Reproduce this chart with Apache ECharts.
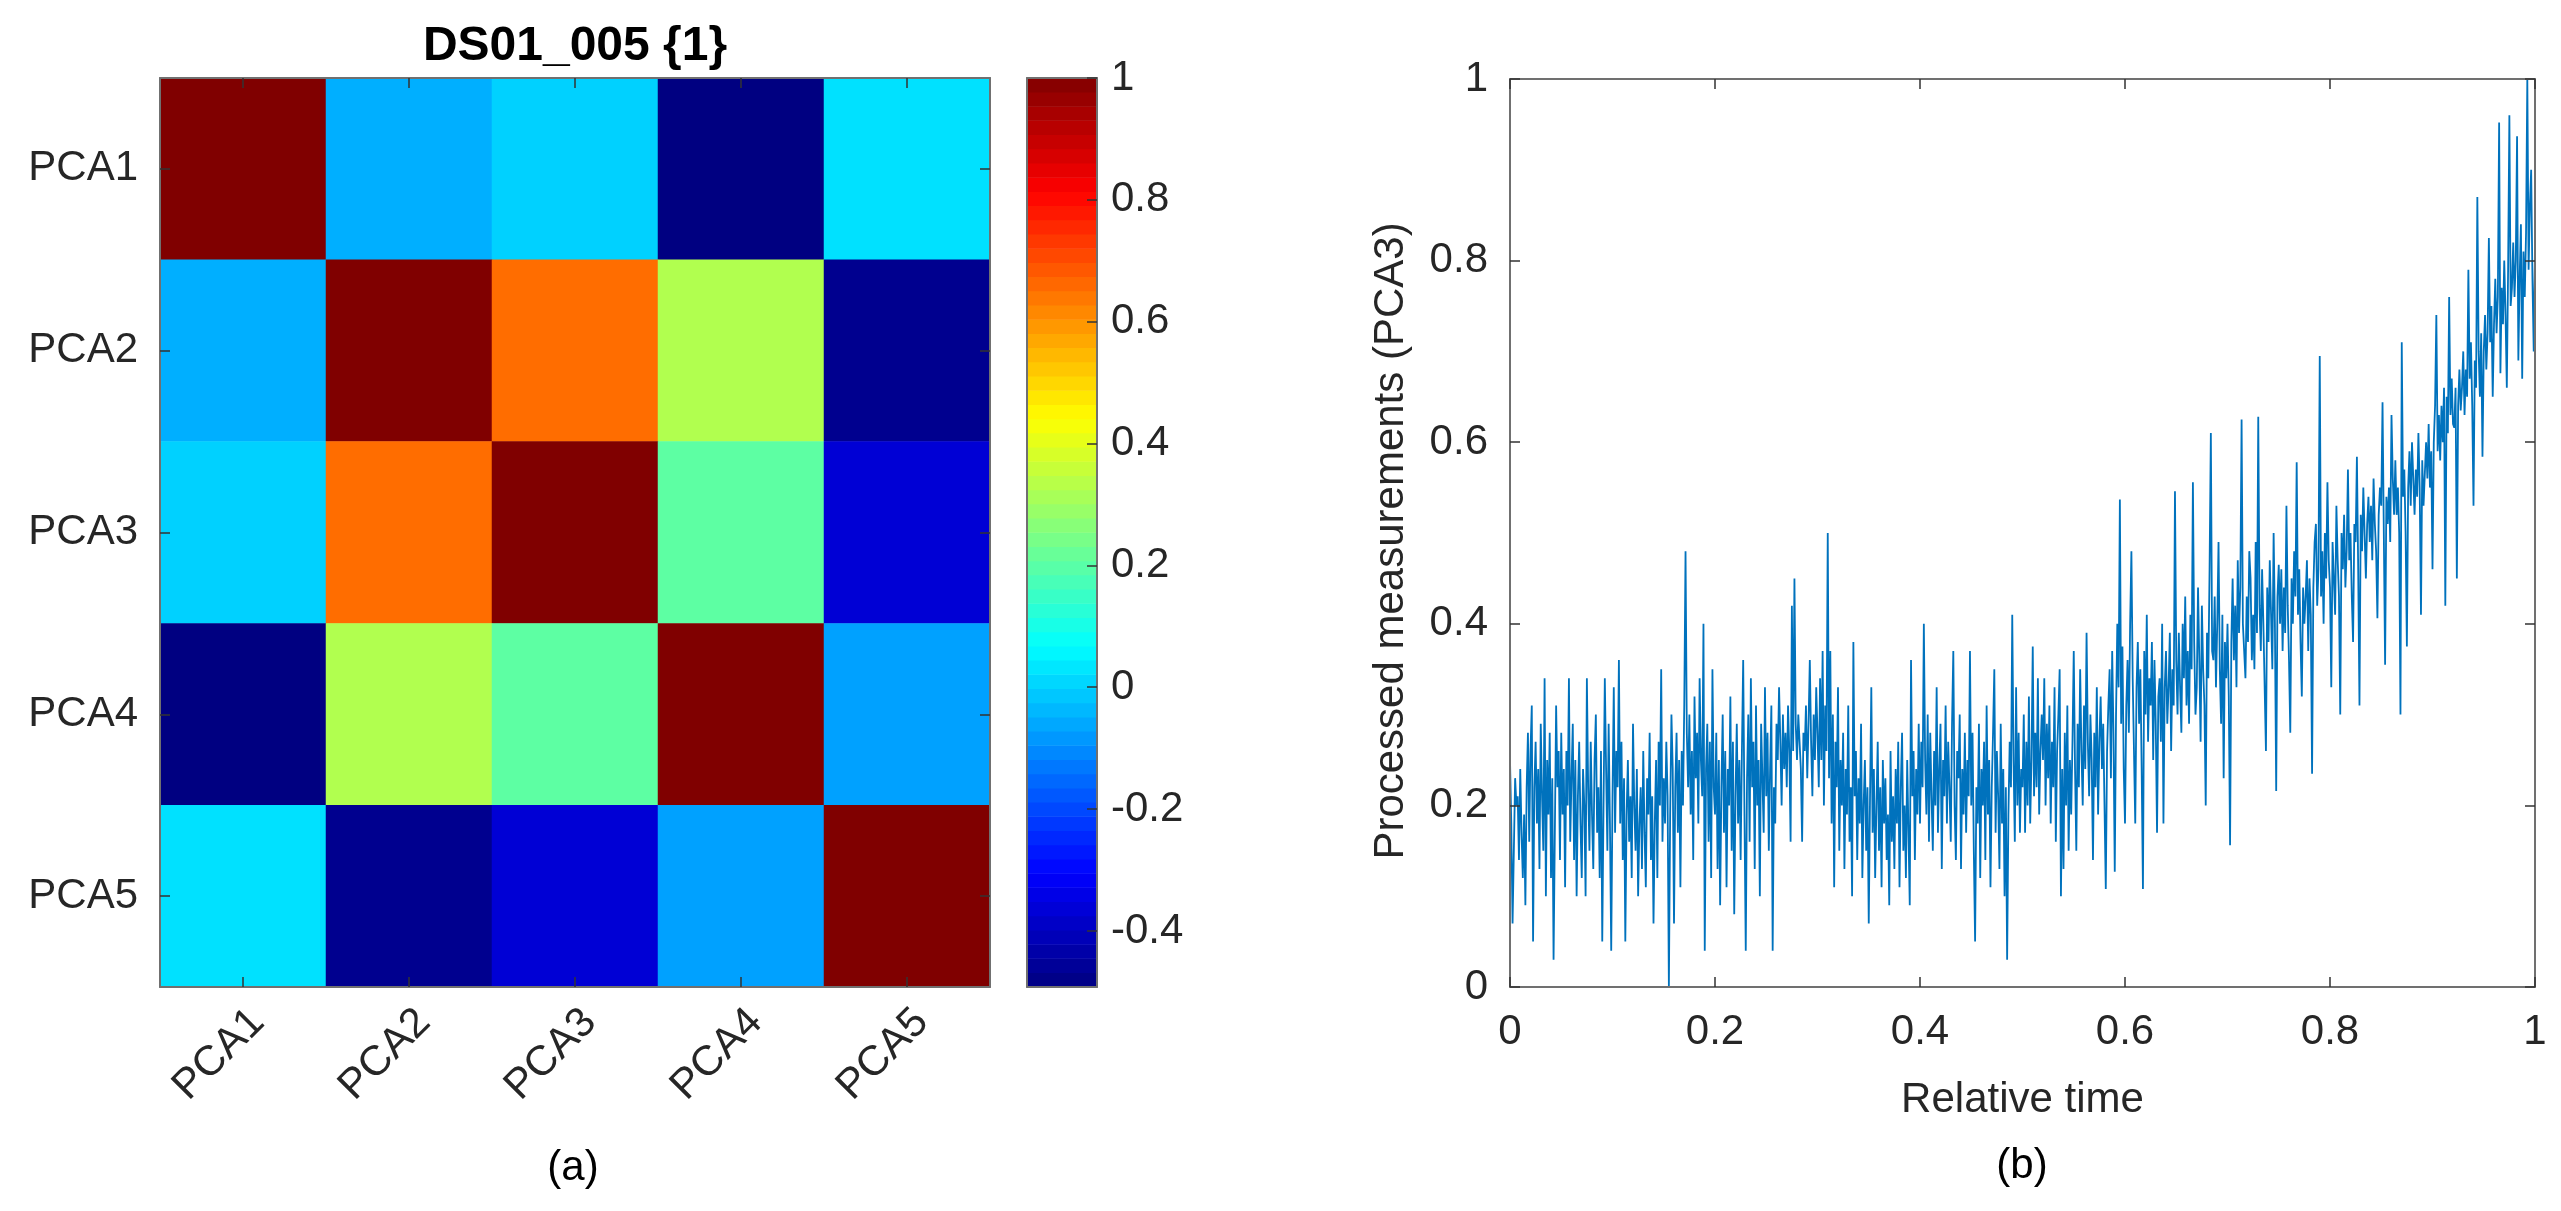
<!DOCTYPE html>
<html>
<head>
<meta charset="utf-8">
<script src="https://cdn.jsdelivr.net/npm/echarts@6.0.0/dist/echarts.min.js"></script>
<style>
html,body{margin:0;padding:0;background:#ffffff;}
#c{width:2561px;height:1211px;}
</style>
</head>
<body>
<div id="c"></div>
<script>
// ---------- data ----------
const pcaLabels = ['PCA1', 'PCA2', 'PCA3', 'PCA4', 'PCA5'];
const corrPCA1 = [1.000, -0.050, 0.000, -0.490, 0.024];
const corrPCA2 = [-0.050, 1.000, 0.654, 0.326, -0.470];
const corrPCA3 = [0.000, 0.654, 1.000, 0.203, -0.367];
const corrPCA4 = [-0.490, 0.326, 0.203, 1.000, -0.070];
const corrPCA5 = [0.024, -0.470, -0.367, -0.070, 1.000];
const colorMin = -0.492;
const colorMax = 1;
const jetStops = ['#000080', '#0000FF', '#0080FF', '#00FFFF', '#80FF80', '#FFFF00', '#FF8000', '#FF0000', '#800000'];
const timeTicks = [0, 0.2, 0.4, 0.6, 0.8, 1];
const pca3Values = [
0.25,0.18,0.07,0.15,0.23,0.20,0.21,0.14,0.24,0.17,0.12,0.19,0.09,0.22,0.28,0.16,0.26,0.31,0.05,0.22,
0.27,0.18,0.24,0.13,0.29,0.21,0.15,0.34,0.10,0.25,0.19,0.28,0.12,0.23,0.03,0.17,0.31,0.22,0.26,0.14,
0.28,0.19,0.24,0.11,0.26,0.20,0.34,0.16,0.23,0.29,0.14,0.25,0.10,0.21,0.27,0.18,0.12,0.24,0.20,0.10,
0.34,0.22,0.15,0.27,0.19,0.13,0.25,0.30,0.17,0.22,0.12,0.26,0.05,0.20,0.34,0.24,0.15,0.29,0.18,0.04,
0.21,0.33,0.17,0.26,0.22,0.36,0.18,0.27,0.14,0.23,0.05,0.19,0.25,0.16,0.21,0.12,0.29,0.20,0.15,0.24,
0.10,0.18,0.22,0.13,0.26,0.17,0.11,0.23,0.19,0.28,0.14,0.21,0.07,0.18,0.25,0.12,0.27,0.20,0.35,0.16,
0.23,0.18,0.27,0.21,0.00,0.19,0.30,0.24,0.07,0.22,0.28,0.17,0.25,0.11,0.26,0.20,0.31,0.48,0.28,0.22,
0.30,0.19,0.26,0.14,0.32,0.23,0.28,0.18,0.34,0.25,0.21,0.40,0.04,0.24,0.29,0.16,0.27,0.12,0.35,0.22,
0.19,0.28,0.13,0.25,0.09,0.22,0.30,0.17,0.26,0.11,0.24,0.20,0.32,0.15,0.27,0.08,0.21,0.29,0.18,0.25,
0.14,0.26,0.36,0.19,0.04,0.23,0.30,0.16,0.34,0.22,0.27,0.13,0.31,0.20,0.25,0.10,0.29,0.23,0.17,0.33,
0.21,0.28,0.15,0.24,0.31,0.04,0.22,0.18,0.29,0.25,0.33,0.27,0.20,0.30,0.24,0.28,0.22,0.31,0.26,0.16,
0.42,0.26,0.45,0.29,0.25,0.30,0.27,0.24,0.16,0.28,0.26,0.31,0.23,0.29,0.36,0.27,0.21,0.30,0.25,0.33,
0.28,0.22,0.34,0.25,0.37,0.20,0.31,0.26,0.50,0.23,0.37,0.18,0.30,0.11,0.27,0.22,0.33,0.15,0.25,0.20,
0.28,0.13,0.24,0.19,0.31,0.16,0.22,0.10,0.38,0.21,0.26,0.14,0.23,0.18,0.29,0.12,0.20,0.25,0.15,0.22,
0.07,0.21,0.33,0.17,0.24,0.12,0.20,0.27,0.15,0.22,0.11,0.25,0.18,0.23,0.14,0.19,0.09,0.26,0.16,0.21,
0.13,0.24,0.18,0.27,0.11,0.22,0.28,0.15,0.20,0.12,0.25,0.17,0.09,0.36,0.21,0.26,0.14,0.24,0.19,0.29,
0.18,0.27,0.22,0.40,0.25,0.19,0.30,0.16,0.28,0.21,0.15,0.26,0.20,0.33,0.17,0.24,0.29,0.13,0.25,0.21,
0.31,0.18,0.27,0.22,0.16,0.29,0.37,0.20,0.14,0.26,0.23,0.30,0.13,0.24,0.19,0.28,0.17,0.25,0.21,0.37,
0.20,0.28,0.15,0.05,0.22,0.18,0.29,0.12,0.24,0.20,0.27,0.14,0.31,0.19,0.25,0.11,0.22,0.28,0.35,0.17,
0.26,0.21,0.13,0.29,0.18,0.24,0.10,0.22,0.03,0.19,0.27,0.22,0.41,0.25,0.16,0.33,0.20,0.28,0.17,0.24,
0.22,0.30,0.17,0.27,0.20,0.32,0.18,0.25,0.375,0.21,0.28,0.22,0.34,0.19,0.26,0.30,0.25,0.34,0.20,0.29,
0.23,0.31,0.18,0.27,0.22,0.33,0.16,0.26,0.30,0.35,0.10,0.24,0.13,0.28,0.20,0.31,0.15,0.25,0.19,0.27,
0.37,0.24,0.15,0.29,0.22,0.35,0.26,0.20,0.31,0.24,0.39,0.27,0.21,0.30,0.25,0.14,0.28,0.22,0.33,0.19,
0.27,0.32,0.24,0.29,0.20,0.108,0.26,0.31,0.35,0.23,0.37,0.28,0.127,0.30,0.40,0.33,0.537,0.29,0.375,0.24,
0.18,0.31,0.36,0.28,0.40,0.48,0.34,0.26,0.18,0.33,0.38,0.29,0.35,0.24,0.108,0.37,0.30,0.41,0.27,0.34,
0.31,0.38,0.25,0.36,0.29,0.17,0.32,0.34,0.27,0.40,0.18,0.33,0.37,0.29,0.33,0.39,0.26,0.35,0.31,0.546,
0.36,0.30,0.39,0.33,0.28,0.40,0.34,0.43,0.31,0.37,0.29,0.41,0.35,0.556,0.38,0.30,0.33,0.44,0.36,0.27,
0.42,0.35,0.31,0.20,0.39,0.34,0.46,0.61,0.37,0.36,0.43,0.33,0.40,0.49,0.35,0.29,0.41,0.23,0.38,0.34,
0.40,0.32,0.156,0.38,0.45,0.36,0.42,0.33,0.47,0.39,0.44,0.625,0.40,0.37,0.34,0.43,0.38,0.48,0.45,0.36,
0.41,0.35,0.49,0.39,0.628,0.42,0.37,0.46,0.40,0.33,0.26,0.44,0.38,0.47,0.41,0.35,0.50,0.40,0.216,0.43,
0.465,0.40,0.46,0.37,0.44,0.39,0.53,0.42,0.36,0.28,0.45,0.40,0.48,0.43,0.578,0.41,0.46,0.38,0.32,0.44,
0.40,0.43,0.47,0.37,0.45,0.41,0.235,0.44,0.49,0.51,0.42,0.46,0.695,0.43,0.48,0.40,0.50,0.45,0.556,0.47,
0.44,0.33,0.49,0.45,0.41,0.53,0.47,0.43,0.30,0.50,0.46,0.52,0.44,0.48,0.57,0.47,0.50,0.43,0.38,0.51,
0.49,0.584,0.46,0.31,0.52,0.48,0.55,0.50,0.45,0.51,0.54,0.49,0.53,0.47,0.56,0.51,0.48,0.406,0.52,0.55,
0.53,0.644,0.50,0.355,0.54,0.51,0.55,0.49,0.63,0.56,0.52,0.58,0.52,0.55,0.50,0.30,0.71,0.54,0.57,0.50,
0.375,0.55,0.59,0.53,0.60,0.56,0.52,0.57,0.54,0.61,0.55,0.41,0.58,0.53,0.565,0.60,0.56,0.62,0.55,0.59,
0.46,0.60,0.64,0.74,0.59,0.63,0.58,0.64,0.60,0.66,0.42,0.65,0.61,0.76,0.63,0.67,0.62,0.616,0.66,0.45,
0.64,0.68,0.635,0.66,0.70,0.63,0.68,0.65,0.79,0.67,0.71,0.64,0.53,0.69,0.66,0.87,0.70,0.65,0.72,0.584,
0.70,0.74,0.68,0.72,0.825,0.71,0.75,0.65,0.73,0.78,0.72,0.76,0.952,0.676,0.77,0.73,0.80,0.74,0.66,0.79,
0.96,0.75,0.77,0.82,0.76,0.80,0.937,0.69,0.78,0.84,0.67,0.81,0.76,0.83,1.00,0.79,0.86,0.90,0.78,0.70,
0.81
];

// ---------- derived structures ----------
const corrRows = [corrPCA1, corrPCA2, corrPCA3, corrPCA4, corrPCA5];
const heatData = [];
corrRows.forEach((row, r) => row.forEach((v, c) => heatData.push([c, r, v])));

const NLEV = 64;
const levelIdx = [];
const colorbarData = [];
for (let i = 0; i < NLEV; i++) {
  levelIdx.push(String(i));
  colorbarData.push([0, i, colorMin + (i + 0.5) * (colorMax - colorMin) / NLEV]);
}
const lineData = pca3Values.map((v, i) => [i / (pca3Values.length - 1), v]);

// ---------- styles ----------
const FONT = '"Liberation Sans", Arial, Helvetica, sans-serif';
const TXT = '#262626';
const BOX = '#707070';
const FS = 42;
const boxLine = { show: true, onZero: false, lineStyle: { color: BOX, width: 2 } };
const inTick = { show: true, inside: true, length: 10, lineStyle: { color: '#333333', width: 1.5 } };
const noTick = { show: false };
const noLabel = { show: false };
const noSplit = { show: false };
const lab = (extra) => Object.assign({ fontSize: FS, color: TXT, fontFamily: FONT }, extra);

const chart = echarts.init(document.getElementById('c'), null, { renderer: 'canvas' });

const option = {
  animation: false,
  backgroundColor: '#ffffff',
  grid: [
    { left: 160, top: 78, width: 830, height: 909 },
    { left: 1027, top: 78, width: 70, height: 909 },
    { left: 1510, top: 79, width: 1025, height: 908 }
  ],
  visualMap: {
    type: 'continuous', show: false, min: colorMin, max: colorMax,
    dimension: 2, seriesIndex: [0, 1],
    inRange: { color: jetStops }
  },
  xAxis: [
    { gridIndex: 0, type: 'category', data: pcaLabels, position: 'bottom', z: 5,
      axisLine: boxLine, axisTick: Object.assign({ alignWithLabel: true }, inTick),
      axisLabel: lab({ rotate: 45, align: 'right', verticalAlign: 'top', margin: 14, interval: 0 }),
      splitLine: noSplit },
    { gridIndex: 0, type: 'category', data: pcaLabels, position: 'top', z: 5,
      axisLine: boxLine, axisTick: Object.assign({ alignWithLabel: true }, inTick),
      axisLabel: noLabel, splitLine: noSplit },
    { gridIndex: 1, type: 'category', data: ['cb'], position: 'bottom', z: 5,
      axisLine: boxLine, axisTick: noTick, axisLabel: noLabel, splitLine: noSplit },
    { gridIndex: 1, type: 'category', data: ['cb'], position: 'top', z: 5,
      axisLine: boxLine, axisTick: noTick, axisLabel: noLabel, splitLine: noSplit },
    { gridIndex: 2, type: 'value', min: timeTicks[0], max: timeTicks[timeTicks.length - 1], interval: 0.2,
      position: 'bottom', z: 5,
      name: 'Relative time', nameLocation: 'middle', nameGap: 92,
      nameTextStyle: lab({}),
      axisLine: boxLine, axisTick: inTick,
      axisLabel: lab({ margin: 24 }), splitLine: noSplit },
    { gridIndex: 2, type: 'value', min: timeTicks[0], max: timeTicks[timeTicks.length - 1], interval: 0.2,
      position: 'top', z: 5,
      axisLine: boxLine, axisTick: inTick, axisLabel: noLabel, splitLine: noSplit }
  ],
  yAxis: [
    { gridIndex: 0, type: 'category', data: pcaLabels, inverse: true, position: 'left', z: 5,
      axisLine: boxLine, axisTick: Object.assign({ alignWithLabel: true }, inTick),
      axisLabel: lab({ margin: 22, interval: 0 }), splitLine: noSplit },
    { gridIndex: 0, type: 'category', data: pcaLabels, inverse: true, position: 'right', z: 5,
      axisLine: boxLine, axisTick: Object.assign({ alignWithLabel: true }, inTick),
      axisLabel: noLabel, splitLine: noSplit },
    { gridIndex: 1, type: 'category', data: levelIdx, position: 'left', show: false },
    { gridIndex: 1, type: 'value', min: colorMin, max: colorMax, position: 'right', z: 5,
      splitNumber: 7, minInterval: 0.2, maxInterval: 0.2,
      axisLine: boxLine, axisTick: inTick,
      axisLabel: lab({ margin: 14, showMinLabel: false,
        formatter: function (v) {
          if (Math.abs(v * 5 - Math.round(v * 5)) > 1e-6) return '';
          return String(+(v.toFixed(1)));
        } }),
      splitLine: noSplit },
    { gridIndex: 1, type: 'value', min: colorMin, max: colorMax, position: 'left', z: 5,
      axisLine: boxLine, axisTick: noTick, axisLabel: noLabel, splitLine: noSplit },
    { gridIndex: 2, type: 'value', min: 0, max: 1, interval: 0.2, position: 'left', z: 5,
      name: 'Processed measurements (PCA3)', nameLocation: 'middle', nameGap: 98,
      nameTextStyle: lab({ padding: [0, 16, 0, 0] }),
      axisLine: boxLine, axisTick: inTick,
      axisLabel: lab({ margin: 22 }), splitLine: noSplit },
    { gridIndex: 2, type: 'value', min: 0, max: 1, interval: 0.2, position: 'right', z: 5,
      axisLine: boxLine, axisTick: inTick, axisLabel: noLabel, splitLine: noSplit }
  ],
  series: [
    { type: 'heatmap', xAxisIndex: 0, yAxisIndex: 0, data: heatData,
      itemStyle: { borderWidth: 0 }, emphasis: { disabled: true } },
    { type: 'heatmap', xAxisIndex: 2, yAxisIndex: 2, data: colorbarData,
      itemStyle: { borderWidth: 0 }, emphasis: { disabled: true } },
    { type: 'line', xAxisIndex: 4, yAxisIndex: 5, data: lineData,
      showSymbol: false, symbol: 'none',
      lineStyle: { color: '#0072BD', width: 1.8 }, emphasis: { disabled: true } }
  ],
  graphic: [
    { type: 'text', x: 575, y: 47, z: 10,
      style: { text: 'DS01_005 {1}', fontSize: 48, fontWeight: 'bold', fontFamily: FONT, fill: '#000000',
        textAlign: 'center', textVerticalAlign: 'middle', align: 'center', verticalAlign: 'middle' } },
    { type: 'text', x: 573, y: 1168, z: 10,
      style: { text: '(a)', fontSize: FS, fontFamily: FONT, fill: '#000000',
        textAlign: 'center', textVerticalAlign: 'middle', align: 'center', verticalAlign: 'middle' } },
    { type: 'text', x: 2022, y: 1166, z: 10,
      style: { text: '(b)', fontSize: FS, fontFamily: FONT, fill: '#000000',
        textAlign: 'center', textVerticalAlign: 'middle', align: 'center', verticalAlign: 'middle' } }
  ]
};
chart.setOption(option);
</script>
</body>
</html>
